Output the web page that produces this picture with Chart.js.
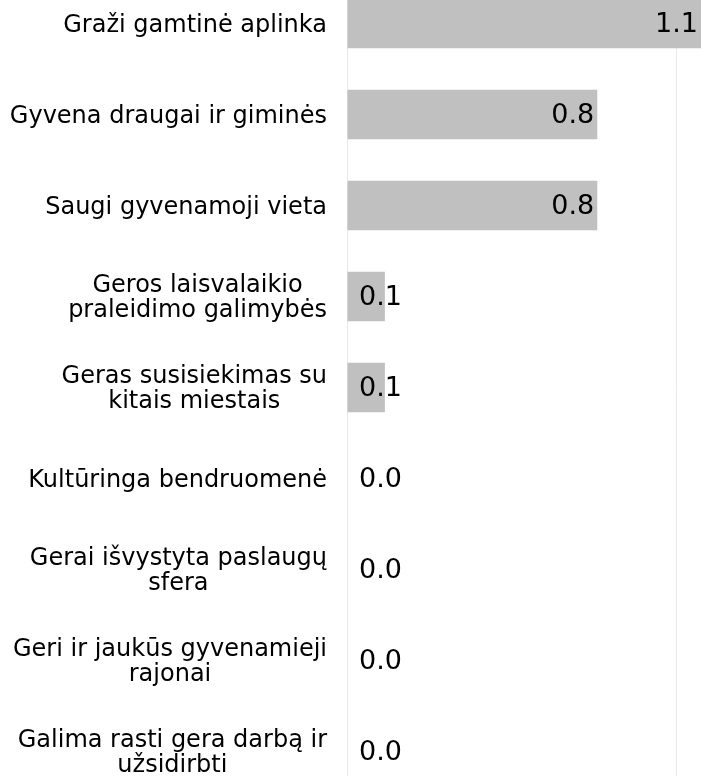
<!DOCTYPE html>
<html>
<head>
<meta charset="utf-8">
<script src="https://cdn.jsdelivr.net/npm/chart.js@4/dist/chart.umd.min.js"></script>
<style>
  html, body { margin: 0; padding: 0; background: #fff; overflow: hidden; }
  /* the plot runs a little past the top and bottom of the page */
  #wrap { position: absolute; left: 0; top: -22px; width: 705px; height: 819px; }
</style>
</head>
<body>
<div id="wrap"><canvas id="mychart"></canvas></div>
<script>
const categories = [
  ['Graži gamtinė aplinka'],
  ['Gyvena draugai ir giminės'],
  ['Saugi gyvenamoji vieta'],
  ['Geros laisvalaikio', 'praleidimo galimybės'],
  ['Geras susisiekimas su', 'kitais miestais'],
  ['Kultūringa bendruomenė'],
  ['Gerai išvystyta paslaugų', 'sfera'],
  ['Geri ir jaukūs gyvenamieji', 'rajonai'],
  ['Galima rasti gera darbą ir', 'užsidirbti']
];
const values = [1.075, 0.76, 0.76, 0.115, 0.115, 0, 0, 0, 0];
const gridValues = [0, 1];

// category names to the left of the axis and the value on each bar
const sideLabels = {
  id: 'sideLabels',
  afterDatasetsDraw(chart) {
    const ctx = chart.ctx;
    const x = chart.scales.x;
    const y = chart.scales.y;
    const base = x.getPixelForValue(0);
    ctx.save();
    ctx.fillStyle = '#000000';
    ctx.textBaseline = 'middle';

    ctx.font = '24px "DejaVu Sans"';
    ctx.textAlign = 'center';
    categories.forEach((lines, i) => {
      const cy = y.getPixelForValue(i) + 2;
      const widest = Math.max(...lines.map(l => ctx.measureText(l).width));
      const cx = base - 20 - widest / 2;
      lines.forEach((l, j) => {
        ctx.fillText(l, cx, cy + (j - (lines.length - 1) / 2) * 24.5);
      });
    });

    ctx.font = '27px "DejaVu Sans"';
    ctx.textAlign = 'right';
    chart.getDatasetMeta(0).data.forEach((bar, i) => {
      const xr = Math.max(bar.x - 3, base + 55);
      ctx.fillText(values[i].toFixed(1), xr, bar.y + 1);
    });
    ctx.restore();
  }
};

const ctx = document.getElementById('mychart');
var chart = new Chart(ctx, {
  type: 'bar',
  data: {
    labels: categories,
    datasets: [{
      data: values,
      backgroundColor: '#c0c0c0',
      borderWidth: 0,
      barPercentage: 0.545,
      categoryPercentage: 1
    }]
  },
  options: {
    indexAxis: 'y',
    responsive: true,
    maintainAspectRatio: false,
    animation: false,
    layout: {
      padding: { left: 347, right: 4, top: 0, bottom: 0 }
    },
    plugins: {
      legend: { display: false },
      tooltip: { enabled: false }
    },
    scales: {
      x: {
        min: 0,
        max: 1.075,
        afterBuildTicks: scale => {
          scale.ticks = gridValues.map(v => ({ value: v }));
        },
        grid: {
          color: '#e8e8e8',
          drawTicks: false
        },
        border: { display: false },
        ticks: { display: false }
      },
      y: { display: false }
    }
  },
  plugins: [sideLabels]
});
</script>
</body>
</html>
